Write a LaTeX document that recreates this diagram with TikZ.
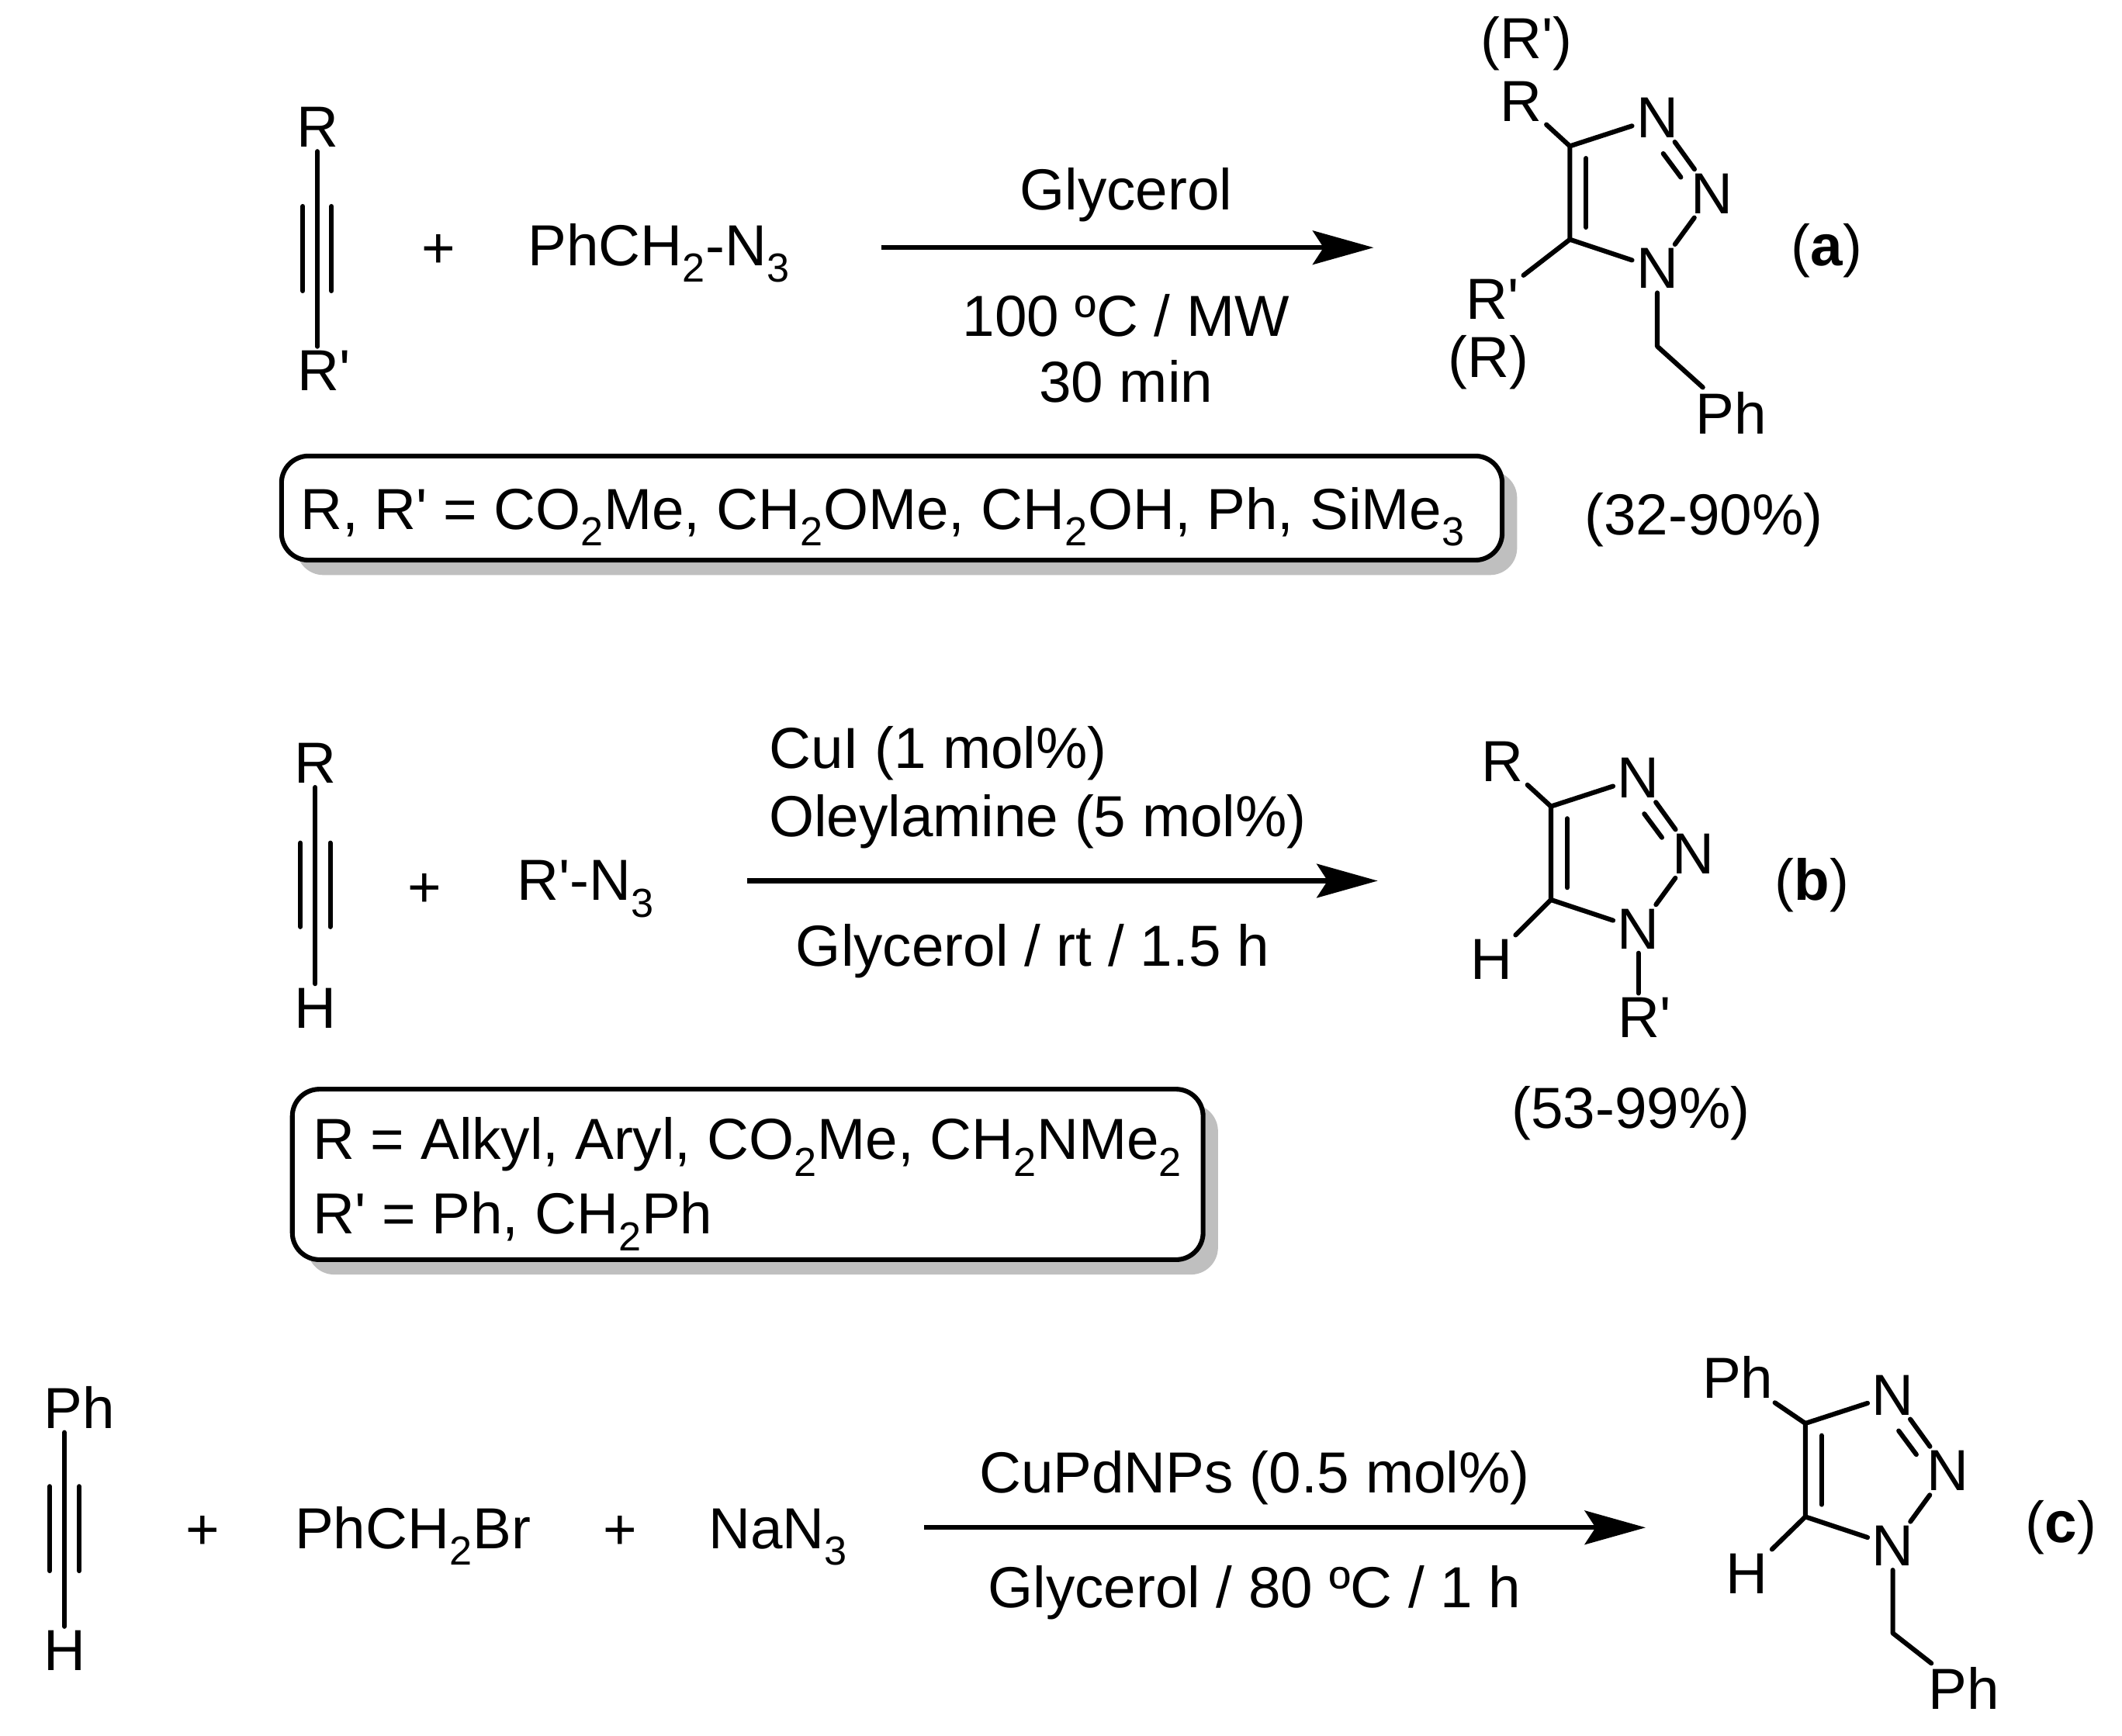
\documentclass[tikz,border=0pt]{standalone}
\usepackage{fontspec}
\setmainfont[Ligatures=TeXOff]{Liberation Sans}
\usetikzlibrary{arrows.meta,shadows}
\tikzset{
	atom/.style={inner sep=3pt,font=\fontsize{42.8}{50}\selectfont},
	boxtext/.style={atom,anchor=base west,inner sep=0pt},
	bond/.style={line width=3.5pt,line cap=round,line join=round},
	rarrow/.style={line width=3.5pt,-{Stealth[length=45pt,width=25pt,inset=8pt]}},
	rbox/.style={draw,line width=3.5pt,fill=white,rounded corners=20pt,inner sep=0pt,
		drop shadow={shadow xshift=11pt,shadow yshift=-11pt,fill=black!25,opacity=1}}
}
\begin{document}
\begin{tikzpicture}[x=1pt,y=-1pt]
	\useasboundingbox (0,0) rectangle (1568,1282.5);

	\foreach \n/\x/\y in {a/1160/108,b/1146/596,c/1334/1052}{
		\coordinate (c4\n) at (\x,\y);
		\coordinate (c5\n) at (\x,\y+69);
		\node[atom] (n3\n) at (\x+64.6,\y-21) {N};
		\node[atom] (n2\n) at (\x+105,\y+35) {N};
		\node[atom] (n1\n) at (\x+64.6,\y+90.5) {N};
		\draw[bond] (n1\n) -- (c5\n) -- (c4\n) -- (n3\n);
		\draw[bond] (n3\n) -- (n2\n) -- (n1\n);
		\draw[bond] (\x+12,\y+9) -- (\x+12,\y+60);
		\draw[bond] (\x+69,\y+5.5) -- (\x+82,\y+23);
	}

	\node[atom] (ra) at (234.5,94) {R};
	\node[atom] (rpa) at (239.5,274) {R'};
	\draw[bond] (ra) -- (ra |- rpa.north);
	\foreach \x in {223.8,245}
		\draw[bond] (\x,152.5) -- (\x,215);
	\node[atom] (plusa) at (324,186) {+};
	\node[atom] (azidea) at (487,187) {PhCH\textsubscript{2}-N\textsubscript{3}};
	\coordinate (arra1) at (651,183);
	\coordinate (arra2) at (1015,183);
	\draw[rarrow] (arra1) -- (arra2);
	\node[atom] (solva) at (832,144) {Glycerol};
	\node[atom] (conda) at (832,233) {100 ºC / MW};
	\node[atom] (timea) at (832,282) {30 min};
	\node[atom] (pra) at (1124,75) {R};
	\node[atom] (prpa) at (1103,221) {R'};
	\node[atom] (altrpa) at (1128,32) {(R')};
	\node[atom] (altra) at (1100,268) {(R)};
	\coordinate (ch2a) at (1224.6,256);
	\node[atom] (pha) at (1279,305) {Ph};
	\draw[bond] (pra) -- (c4a);
	\draw[bond] (prpa) -- (c5a);
	\draw[bond] (n1a) -- (ch2a) -- (pha);
	\node[atom] (laba) at (1350,185) {(\textbf{a})};
	\node[atom] (yielda) at (1259,384) {(32-90\%)};
	\node[rbox,minimum width=902pt,minimum height=77pt] (boxa) at (659,375.5) {};
	\node[boxtext] (texta) at (222,391) {R, R' = CO\textsubscript{2}Me, CH\textsubscript{2}OMe, CH\textsubscript{2}OH, Ph, SiMe\textsubscript{3}};

	\node[atom] (rb) at (233,564) {R};
	\node[atom] (hb) at (233,745) {H};
	\draw[bond] (rb) -- (hb);
	\foreach \x in {222,244}
		\draw[bond] (\x,623) -- (\x,685);
	\node[atom] (plusb) at (314,658) {+};
	\node[atom] (azideb) at (433,657) {R'-N\textsubscript{3}};
	\coordinate (arrb1) at (552,651);
	\coordinate (arrb2) at (1018,651);
	\draw[rarrow] (arrb1) -- (arrb2);
	\node[atom,anchor=west,inner xsep=0pt] (catb) at (568,557) {CuI (1 mol\%)};
	\node[atom,anchor=west,inner xsep=0pt] (ligb) at (568,607) {Oleylamine (5 mol\%)};
	\node[atom] (condb) at (763,703) {Glycerol / rt / 1.5 h};
	\node[atom] (prb) at (1110,563) {R};
	\node[atom] (phb) at (1102,709) {H};
	\node[atom] (prpb) at (1215,752) {R'};
	\draw[bond] (prb) -- (c4b);
	\draw[bond] (phb) -- (c5b);
	\draw[bond] (n1b) -- (n1b |- prpb.north);
	\node[atom] (labb) at (1339,654) {(\textbf{b})};
	\node[atom] (yieldb) at (1205,823) {(53-99\%)};
	\node[rbox,minimum width=673pt,minimum height=126pt] (boxb) at (552.5,868) {};
	\node[boxtext] (textb) at (231,857) {R = Alkyl, Aryl, CO\textsubscript{2}Me, CH\textsubscript{2}NMe\textsubscript{2}};
	\node[boxtext] (textc) at (231,912) {R' = Ph, CH\textsubscript{2}Ph};

	\node[atom] (rc) at (58.7,1040) {Ph};
	\node[atom] (hc) at (47.6,1220) {H};
	\draw[bond] (hc |- rc.south) -- (hc);
	\foreach \x in {36.7,58.5}
		\draw[bond] (\x,1098.6) -- (\x,1161);
	\node[atom] (plusc) at (150,1133) {+};
	\node[atom] (brc) at (305,1135) {PhCH\textsubscript{2}Br};
	\node[atom] (plusd) at (458,1133) {+};
	\node[atom] (nac) at (575,1136) {NaN\textsubscript{3}};
	\coordinate (arrc1) at (683,1129);
	\coordinate (arrc2) at (1216,1129);
	\draw[rarrow] (arrc1) -- (arrc2);
	\node[atom] (catc) at (927,1092) {CuPdNPs (0.5 mol\%)};
	\node[atom] (condc) at (927,1177) {Glycerol / 80 ºC / 1 h};
	\node[atom] (prc) at (1284,1018) {Ph};
	\node[atom] (phc) at (1291,1163) {H};
	\coordinate (ch2c) at (1398.6,1207);
	\node[atom] (phc2) at (1451,1248) {Ph};
	\draw[bond] (prc) -- (c4c);
	\draw[bond] (phc) -- (c5c);
	\draw[bond] (n1c) -- (ch2c) -- (phc2);
	\node[atom] (labc) at (1523,1129) {(\textbf{c})};
\end{tikzpicture}
\end{document}
